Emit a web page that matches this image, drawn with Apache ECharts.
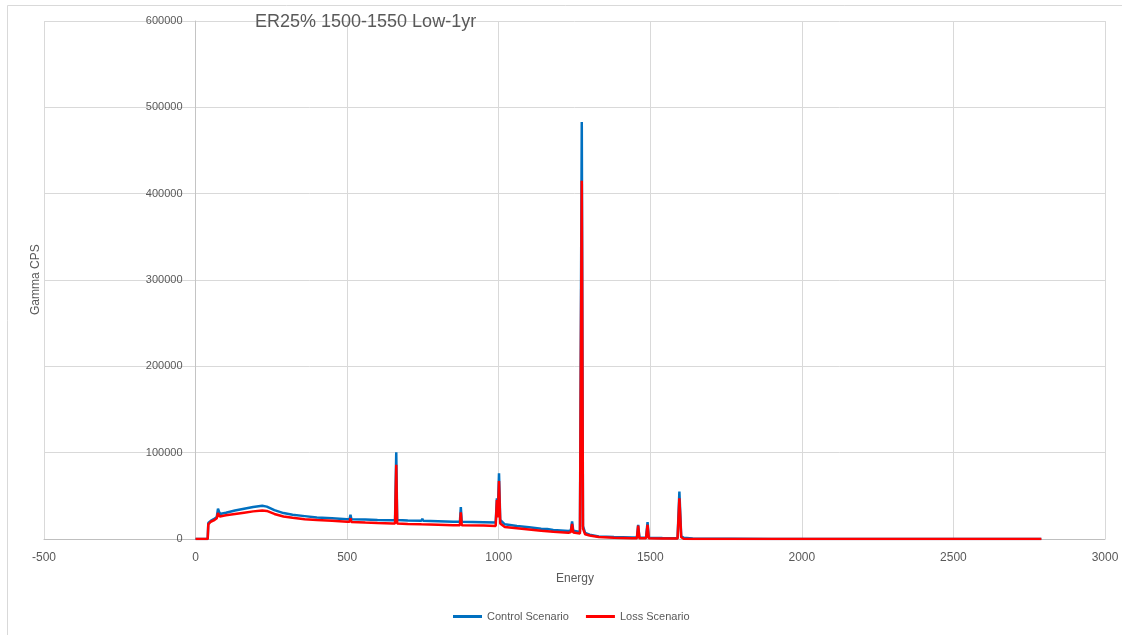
<!DOCTYPE html>
<html>
<head>
<meta charset="utf-8">
<script src="https://cdn.jsdelivr.net/npm/echarts@6/dist/echarts.min.js"></script>
<style>
  html, body { margin: 0; padding: 0; background: #ffffff; }
  #chart { width: 1122px; height: 635px; }
</style>
</head>
<body>
<div id="chart"></div>
<script>
// Gamma spectrum: energy channel (keV) and count rate for the two scenarios
const energy = [
  0, 40, 42, 50, 60, 70, 74, 77, 80, 100, 130, 160, 190, 220, 235, 260, 290, 320, 360, 400,
  450, 500, 508, 511, 514, 560, 600, 650, 658, 662, 665, 700, 745, 748, 751, 800, 850, 872,
  875, 878, 950, 990, 994, 997, 1001, 1005, 1020, 1060, 1100, 1140, 1160, 1163, 1180, 1230,
  1238, 1242, 1246, 1268, 1274, 1278, 1285, 1300, 1330, 1380, 1440, 1456, 1460, 1464, 1486,
  1491, 1495, 1540, 1590, 1596, 1602, 1610, 1640, 1700, 1760, 1764, 1768, 1900, 2790
];
const controlCps = [
  0, 0, 18500, 21000, 23000, 25500, 35000, 33000, 29000, 30500, 33000, 35000, 37000, 38500, 37500, 33500, 30000, 28000, 26500, 25000,
  24000, 23000, 23000, 28000, 22800, 22500, 22000, 21800, 21800, 100500, 22000, 21500, 21000, 23500, 21000, 20500, 20000, 20000,
  37000, 20000, 19500, 19000, 47000, 30000, 76000, 22000, 17000, 15000, 13500, 12000, 11500, 13500, 10500, 9300,
  10000, 20500, 9500, 8000, 483000, 15000, 7000, 5000, 3000, 2200, 1800, 1800, 16500, 1800, 1500,
  19500, 1500, 1200, 1000, 55000, 3000, 1500, 500, 200, 200, 2000, 200, 100, 100
];
const lossCps = [
  0, 0, 17000, 20000, 21500, 24000, 30000, 29000, 26000, 27500, 29000, 30500, 32000, 33000, 32500, 29000, 26000, 24500, 23000, 22000,
  21000, 20000, 20000, 24000, 19800, 19000, 18500, 18000, 18000, 86000, 18000, 17500, 17000, 17000, 17000, 16500, 16000, 16000,
  31000, 16000, 15500, 15000, 45000, 25000, 67000, 18000, 14000, 12500, 11000, 9500, 9000, 9000, 8500, 7300,
  8000, 17500, 7500, 6500, 415000, 12000, 5500, 4000, 2200, 1500, 1000, 1000, 15500, 1000, 900,
  16500, 900, 700, 500, 47000, 2000, 300, 100, 50, 50, 2000, 50, 50, 50
];

const chartTitle = 'ER25% 1500-1550 Low-1yr';
const seriesNames = ['Control Scenario', 'Loss Scenario'];
const seriesColors = ['#0070C0', '#FF0000'];

const font = "'Liberation Sans', Arial, sans-serif";
const textGray = '#595959';

// plot box in pixels; the value axis is drawn where energy = 0
const plotLeft = 44, plotRight = 1105;
const xMin = -500, xMax = 3000;
const yAxisShift = (0 - xMin) / (xMax - xMin) * (plotRight - plotLeft);

const chart = echarts.init(document.getElementById('chart'), null, { renderer: 'canvas' });

chart.setOption({
  animation: false,
  backgroundColor: '#ffffff',
  textStyle: { fontFamily: font },
  title: {
    text: chartTitle,
    left: 255,
    top: 13,
    padding: 0,
    textStyle: { fontFamily: font, fontSize: 18, fontWeight: 'normal', color: textGray }
  },
  legend: {
    bottom: 13,
    left: 453,
    itemWidth: 29,
    itemHeight: 3,
    itemGap: 17,
    icon: 'rect',
    padding: 0,
    textStyle: { fontFamily: font, fontSize: 11, color: textGray },
    data: seriesNames
  },
  grid: {
    left: plotLeft, right: 1122 - plotRight, top: 21, bottom: 96,
    containLabel: false, outerBoundsMode: 'none'
  },
  xAxis: {
    type: 'value',
    min: xMin,
    max: xMax,
    interval: 500,
    axisLine: { onZero: true, lineStyle: { color: '#bfbfbf', width: 1 } },
    axisTick: { show: false },
    axisLabel: { margin: 13, fontSize: 12, color: textGray, fontFamily: font, formatter: v => String(v) },
    splitLine: { show: true, lineStyle: { color: '#d9d9d9', width: 1 } }
  },
  yAxis: {
    type: 'value',
    min: 0,
    max: 600000,
    interval: 100000,
    offset: -yAxisShift,
    axisLine: { show: true, onZero: false, lineStyle: { color: '#c4c4c4', width: 1 } },
    axisTick: { show: false },
    axisLabel: { margin: 13, fontSize: 11, color: textGray, fontFamily: font, formatter: v => String(v) },
    splitLine: { show: true, lineStyle: { color: '#d9d9d9', width: 1 } }
  },
  graphic: [
    {
      type: 'rect',
      silent: true,
      shape: { x: 7.5, y: 5.5, width: 1200, height: 700 },
      style: { fill: 'none', stroke: '#d9d9d9', lineWidth: 1 }
    },
    {
      type: 'text',
      left: 556,
      top: 573,
      style: { text: 'Energy', fontFamily: font, fontSize: 12, fill: textGray }
    },
    {
      type: 'text',
      x: 30,
      y: 315,
      rotation: Math.PI / 2,
      style: { text: 'Gamma CPS', fontFamily: font, fontSize: 12, fill: textGray }
    }
  ],
  series: [
    {
      name: seriesNames[0],
      type: 'line',
      showSymbol: false,
      symbol: 'none',
      lineStyle: { color: seriesColors[0], width: 2.5 },
      itemStyle: { color: seriesColors[0] },
      data: energy.map((e, i) => [e, controlCps[i]]),
      z: 2
    },
    {
      name: seriesNames[1],
      type: 'line',
      showSymbol: false,
      symbol: 'none',
      lineStyle: { color: seriesColors[1], width: 2.5 },
      itemStyle: { color: seriesColors[1] },
      data: energy.map((e, i) => [e, lossCps[i]]),
      z: 3
    }
  ]
});
</script>
</body>
</html>
